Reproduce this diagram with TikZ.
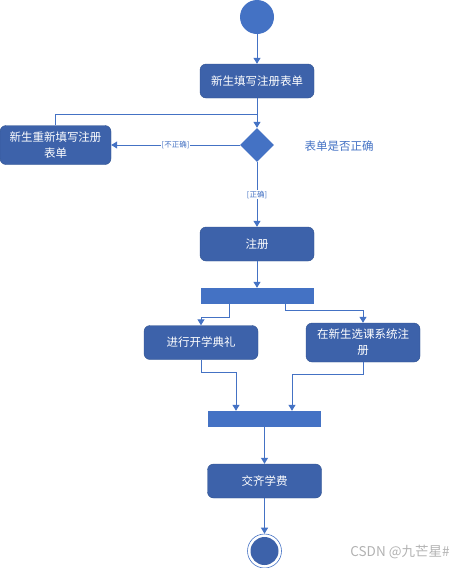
\documentclass[tikz,border=0pt]{standalone}
\usepackage{fontspec}
\setmainfont{Noto Sans CJK SC}
\usetikzlibrary{shapes.geometric,arrows.meta}
\definecolor{boxblue}{HTML}{3D62AA}
\definecolor{lineblue}{HTML}{4472C4}
\definecolor{edgeblue}{HTML}{2F528F}

\begin{document}
\begin{tikzpicture}[x=1pt, y=-1pt,
    act/.style={rectangle, rounded corners=6pt, draw=edgeblue, fill=boxblue,
      text=white, minimum width=114pt, minimum height=34pt, align=center,
      inner sep=2pt, font=\fontsize{11.5}{16}\selectfont},
    syncbar/.style={rectangle, fill=lineblue, minimum width=113pt,
      minimum height=16pt, inner sep=0pt},
    flow/.style={draw=lineblue, line width=1pt,
      -{Triangle[width=7pt,length=6pt]}},
    guard/.style={fill=white, text=lineblue, inner sep=1pt,
      font=\fontsize{7.5}{9}\selectfont}
    ]
    \useasboundingbox (0,0) rectangle (474,568);
    \node[circle, fill=lineblue, minimum size=34pt] (start) at (257,17) {};
    \node[act] (fill) at (257,81) {新生填写注册表单};
    \node[diamond, fill=lineblue, inner sep=0pt,
      minimum width=34pt, minimum height=34pt] (check) at (257,145) {};
    \node[act, minimum width=111pt, minimum height=39pt] (refill) at (55.5,145)
      {新生重新填写注册\\表单};
    \node[anchor=west, text=lineblue, font=\fontsize{11.5}{14}\selectfont]
      (question) at (301,146) {表单是否正确};
    \node[act] (reg) at (257,244) {注册};
    \node[syncbar] (fork) at (257,296) {};
    \node[act] (ceremony) at (201,342.5) {进行开学典礼};
    \node[act, minimum height=39pt] (course) at (363,342.5)
      {在新生选课系统注\\册};
    \node[syncbar] (join) at (264.5,419) {};
    \node[act] (fee) at (264.5,481) {交齐学费};
    \node[circle, draw=lineblue, line width=0.6pt, minimum size=34pt]
      (finish) at (264.5,551) {};
    \node[circle, fill=boxblue, minimum size=28pt] (finishdot) at (finish) {};
    \node[text=gray!60, font=\fontsize{13.5}{16}\selectfont]
      (mark) at (400,552) {CSDN @九芒星\#};

    % main flow
    \coordinate (loop) at (257,114);
    \draw[flow] (start) -- (fill);
    \draw[flow] (fill) -- (check);
    \draw[draw=lineblue, line width=1pt] (refill.north) |- (loop);
    \draw[flow] (check) -- node[guard] {[不正确]} (refill);
    \draw[flow] (check) -- node[guard] {[正确]} (reg);
    \draw[flow] (reg) -- (fork);
    % fork and join
    \draw[flow] ([xshift=-28pt]fork.south) -- ++(0,13) -| (ceremony.north);
    \draw[flow] ([xshift=28pt]fork.south) -- ++(0,6) -| (course.north);
    \draw[flow] (ceremony.south) -- ++(0,13) -| ([xshift=-28.5pt]join.north);
    \draw[flow] (course.south) -- ++(0,12) -| ([xshift=27.5pt]join.north);
    \draw[flow] (join) -- (fee);
    \draw[flow] (fee) -- (finish);
  \end{tikzpicture}
\end{document}
